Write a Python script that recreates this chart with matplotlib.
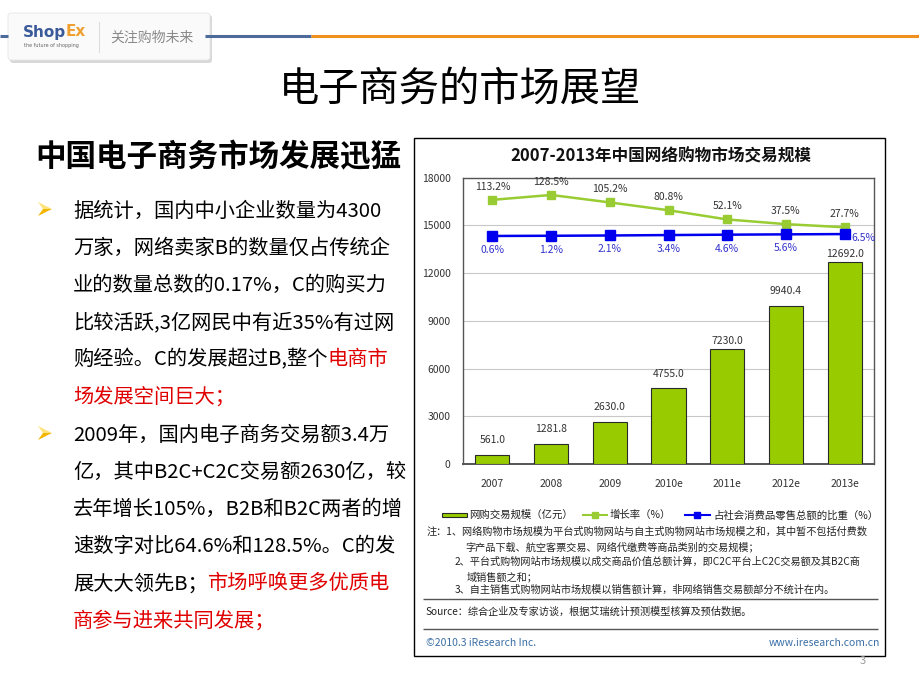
import matplotlib
matplotlib.use('Agg')
import matplotlib.pyplot as plt
from matplotlib.patches import Rectangle, FancyBboxPatch, Polygon
from matplotlib.lines import Line2D

plt.rcParams['font.family'] = ['Noto Sans CJK SC', 'DejaVu Sans']

# chart data
years = ['2007', '2008', '2009', '2010e', '2011e', '2012e', '2013e']
volume = [561.0, 1281.8, 2630.0, 4755.0, 7230.0, 9940.4, 12692.0]
growth = [113.2, 128.5, 105.2, 80.8, 52.1, 37.5, 27.7]
share = [0.6, 1.2, 2.1, 3.4, 4.6, 5.6, 6.5]

RED = '#e00000'
para1 = [
    [('据统计，国内中小企业数量为4300', 'black')],
    [('万家，网络卖家B的数量仅占传统企', 'black')],
    [('业的数量总数的0.17%，C的购买力', 'black')],
    [('比较活跃,3亿网民中有近35%有过网', 'black')],
    [('购经验。C的发展超过B,整个', 'black'), ('电商市', RED)],
    [('场发展空间巨大；', RED)],
]
para2 = [
    [('2009年，国内电子商务交易额3.4万', 'black')],
    [('亿，其中B2C+C2C交易额2630亿，较', 'black')],
    [('去年增长105%，B2B和B2C两者的增', 'black')],
    [('速数字对比64.6%和128.5%。C的发', 'black')],
    [('展大大领先B；', 'black'), ('市场呼唤更多优质电', RED)],
    [('商参与进来共同发展；', RED)],
]
notes = [
    (427, 532, '注：1、网络购物市场规模为平台式购物网站与自主式购物网站市场规模之和，其中暂不包括付费数'),
    (465, 547, '字产品下载、航空客票交易、网络代缴费等商品类别的交易规模；'),
    (455, 562, '2、平台式购物网站市场规模以成交商品价值总额计算，即C2C平台上C2C交易额及其B2C商'),
    (467, 577, '域销售额之和；'),
    (455, 590, '3、自主销售式购物网站市场规模以销售额计算，非网络销售交易额部分不统计在内。'),
]

W, H = 920, 690
fig = plt.figure(figsize=(9.2, 6.9), dpi=100)
renderer = fig.canvas.get_renderer()


def fx(x):
    return x / W


def fy(y):
    return 1 - y / H


def run(x, y, parts, size, **kw):
    for s, c in parts:
        t = fig.text(fx(x), fy(y), s, color=c, fontsize=size, va='center', **kw)
        x += t.get_window_extent(renderer).width


def hline(x0, x1, y, color, lw):
    fig.add_artist(Line2D([fx(x0), fx(x1)], [fy(y), fy(y)], transform=fig.transFigure,
                          color=color, lw=lw, solid_capstyle='butt'))


def arrowhead(cy):
    tip, top, notch, bot = (52, cy), (38, cy - 7), (43, cy), (38, cy + 7)
    for pts, c in (((tip, top, notch), '#ffe27a'), ((tip, notch, bot), '#f2b600')):
        fig.add_artist(Polygon([(fx(a), fy(b)) for a, b in pts], closed=True, fc=c, ec='none',
                               transform=fig.transFigure))


# header band
hline(0, 8, 36, '#4d6b9a', 2.2)
hline(205, 311, 36, '#4d6b9a', 2.2)
hline(311, 920, 36, '#f0901e', 2.2)
fig.add_artist(FancyBboxPatch((fx(10), fy(63)), fx(202), (63 - 15) / H,
                              boxstyle='round,pad=0,rounding_size=0.004',
                              transform=fig.transFigure, fc='#d8d8d8', ec='none'))
fig.add_artist(FancyBboxPatch((fx(8), fy(60)), fx(202), (60 - 13) / H,
                              boxstyle='round,pad=0,rounding_size=0.004',
                              transform=fig.transFigure, fc='#fafafa', ec='#e6e6e6', lw=0.6))
run(23, 32, [('Shop', '#3b5a9a'), ('Ex', '#f0a030')], 11, fontweight='heavy',
    family=['DejaVu Sans'])
fig.text(fx(24), fy(45), 'the future of shopping', fontsize=3.5, color='#666666',
         va='center', family=['DejaVu Sans'])
fig.add_artist(Line2D([fx(99), fx(99)], [fy(22), fy(52)], transform=fig.transFigure,
                      color='#dddddd', lw=0.8))
fig.text(fx(110), fy(38), '关注购物未来', fontsize=10, color='#8a8a8a', va='center')

# titles
fig.text(fx(460), fy(89), '电子商务的市场展望', fontsize=29, ha='center', va='center')
fig.text(fx(35), fy(157), '中国电子商务市场发展迅猛', fontsize=22, fontweight='bold', va='center')

# bullets
for ys, para in ((211, para1), (435, para2)):
    arrowhead(ys - 2)
    for i, parts in enumerate(para):
        run(73, ys + i * 37.2, parts, 14.6)

# chart frame
fig.add_artist(Rectangle((fx(414), fy(656)), (885 - 414) / W, (656 - 138) / H, fill=False,
                         ec='black', lw=1, transform=fig.transFigure))
fig.text(fx(661), fy(156), '2007-2013年中国网络购物市场交易规模', fontsize=12,
         fontweight='bold', ha='center', va='center', color='#111111')

ax = fig.add_axes([fx(463), fy(464), (874 - 463) / W, (464 - 177.7) / H])
x = range(len(years))
ax.bar(x, volume, width=0.58, color='#99cc00', edgecolor='#2a2a2a', lw=0.8, zorder=3)
ax.set_xlim(-0.5, 6.5)
ax.set_ylim(0, 18000)
ax.set_yticks(range(0, 18001, 3000))
ax.set_xticks(list(x))
ax.set_xticklabels(years)
ax.yaxis.grid(True, color='#c8c8c8', lw=0.8)
ax.set_axisbelow(True)
ax.tick_params(axis='y', length=0, labelsize=7.5, colors='#333333', pad=9)
ax.tick_params(axis='x', length=0, labelsize=7.5, colors='#333333', pad=11)
for s in ax.spines.values():
    s.set_color('#555555')
    s.set_linewidth(1)
ax.spines['bottom'].set_linewidth(1.4)

bar_gap = [7, 7, 7, 7, 2, 7, 2]
for i, v in enumerate(volume):
    ax.annotate(f'{v:.1f}', (i, v), xytext=(0, bar_gap[i]), textcoords='offset points',
                ha='center', va='bottom', fontsize=7.5, color='#333333')

ax2 = ax.twinx()
ax2.set_ylim(-710.6, 182.3)
ax2.plot(x, growth, color='#99cc33', marker='s', ms=6, lw=1.8, zorder=4)
ax2.plot(x, share, color='#0000ee', marker='s', ms=6.5, lw=1.8, zorder=5)
ax2.set_yticks([])
for s in ax2.spines.values():
    s.set_visible(False)
for i, g in enumerate(growth):
    ax2.annotate(f'{g}%', (i, g), xytext=(0, 6), textcoords='offset points',
                 ha='center', va='bottom', fontsize=7.5, color='#333333')
for i, s in enumerate(share):
    if i == len(share) - 1:
        ax2.annotate(f'{s}%', (i, s), xytext=(5, -3), textcoords='offset points',
                     ha='left', va='center', fontsize=7.5, color='#3333cc')
    else:
        ax2.annotate(f'{s}%', (i, s), xytext=(0, -10), textcoords='offset points',
                     ha='center', va='center', fontsize=7.5, color='#3333cc')

# legend
fig.add_artist(Rectangle((fx(442), fy(517)), fx(25), 4 / H, fc='#99cc00', ec='#2a2a2a',
                         lw=0.8, transform=fig.transFigure))
fig.text(fx(469), fy(515), '网购交易规模（亿元）', fontsize=7.5, va='center', color='#222222')
fig.add_artist(Line2D([fx(583), fx(607)], [fy(515)] * 2, transform=fig.transFigure,
                      color='#99cc33', lw=1.5))
fig.add_artist(Line2D([fx(595)], [fy(515)], transform=fig.transFigure, color='#99cc33',
                      marker='s', ms=4, lw=0))
fig.text(fx(610), fy(515), '增长率（%）', fontsize=7.5, va='center', color='#222222')
fig.add_artist(Line2D([fx(685), fx(710)], [fy(515)] * 2, transform=fig.transFigure,
                      color='#0000ee', lw=1.5))
fig.add_artist(Line2D([fx(697.5)], [fy(515)], transform=fig.transFigure, color='#0000ee',
                      marker='s', ms=4, lw=0))
fig.text(fx(713), fy(515), '占社会消费品零售总额的比重（%）', fontsize=7.5, va='center',
         color='#222222')

for nx, ny, s in notes:
    fig.text(fx(nx), fy(ny), s, fontsize=7.3, va='center', color='#222222')
hline(423, 878, 599, '#555555', 1)
fig.text(fx(425), fy(612), 'Source：综合企业及专家访谈，根据艾瑞统计预测模型核算及预估数据。',
         fontsize=7.3, va='center', color='#222222')
hline(423, 878, 629, '#555555', 1)
fig.text(fx(426), fy(643), '©2010.3 iResearch Inc.', fontsize=7.5, va='center', color='#3a6ea5')
fig.text(fx(880), fy(643), 'www.iresearch.com.cn', fontsize=7.5, va='center', ha='right',
         color='#3a6ea5')
fig.text(fx(860), fy(661), '3', fontsize=8, va='center', color='#999999')

fig.savefig('out.png', dpi=100)
